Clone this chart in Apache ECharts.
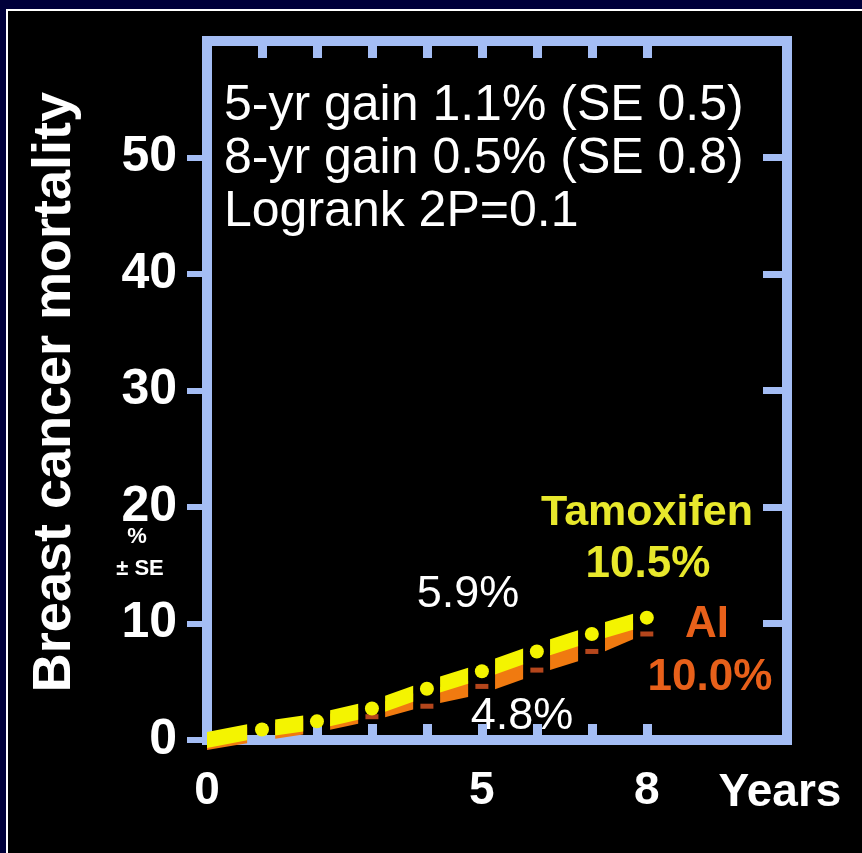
<!DOCTYPE html>
<html>
<head>
<meta charset="utf-8">
<script src="https://cdn.jsdelivr.net/npm/echarts@6/dist/echarts.min.js"></script>
<style>
html,body{margin:0;padding:0;background:#000;}
#chart{width:862px;height:853px;}
</style>
</head>
<body>
<div id="chart"></div>
<script>
// ---- data ----
const years = [0, 1, 2, 3, 4, 5, 6, 7, 8];
const tamoxifen = [0, 0.9, 1.6, 2.7, 4.4, 5.9, 7.6, 9.1, 10.5];
const aromataseInhibitor = [0, 0.8, 1.5, 2.5, 3.8, 4.8, 6.5, 8.0, 10.0];
const lowerMarkYears = [3, 4, 5, 6, 7, 8];
const lowerMarkValues = [2.0, 2.9, 4.6, 6.0, 7.6, 9.1];
const yTickLabels = [0, 10, 20, 30, 40, 50];
const xTickLabels = [0, 5, 8];
const yearTicks = [1, 2, 3, 4, 5, 6, 7, 8];
const statLines = ['5-yr gain 1.1% (SE 0.5)', '8-yr gain 0.5% (SE 0.8)', 'Logrank 2P=0.1'];

const FONT = "'Liberation Sans', Arial, sans-serif";
const FRAME = '#a4bdf4';
const YELLOW = '#f4f400';
const ORANGE = '#f07a10';

function segments(values) {
  return years.slice(0, -1).map((y, i) => [y, values[i], years[i + 1], values[i + 1]]);
}
function blockRenderer(color, half, shift) {
  return function (params, api) {
    const p0 = api.coord([api.value(0), api.value(1)]);
    const p1 = api.coord([api.value(2), api.value(3)]);
    const f0 = params.dataIndex === 0 ? 0 : 0.24;
    const f1 = params.dataIndex === 0 ? 0.73 : 0.75;
    const xa = p0[0] + f0 * (p1[0] - p0[0]), ya = p0[1] + f0 * (p1[1] - p0[1]) + shift;
    const xb = p0[0] + f1 * (p1[0] - p0[0]), yb = p0[1] + f1 * (p1[1] - p0[1]) + shift;
    return {
      type: 'polygon',
      shape: { points: [[xa, ya - half], [xb, yb - half], [xb, yb + half], [xa, ya + half]] },
      style: { fill: color }
    };
  };
}

const chart = echarts.init(document.getElementById('chart'), null, { renderer: 'canvas' });

const txt = (text, x, y, fill, font, align) => ({
  type: 'text', x: x, y: y, silent: true,
  style: { text: text, fill: fill, font: font, textAlign: align || 'center', textVerticalAlign: 'middle' }
});

const noLine = { show: false, onZero: false };

const option = {
  backgroundColor: '#000',
  animation: false,
  grid: {
    left: 207, top: 41, right: 75, bottom: 113,
    show: true, borderColor: FRAME, borderWidth: 10, backgroundColor: 'transparent'
  },
  xAxis: [
    {
      type: 'value', min: 0, max: 10.55, position: 'bottom',
      axisLine: noLine, splitLine: { show: false },
      axisTick: { show: true, inside: true, length: 16, customValues: yearTicks, lineStyle: { color: FRAME, width: 9 } },
      axisLabel: { show: true, customValues: xTickLabels, color: '#fff', fontFamily: FONT, fontWeight: 'bold', fontSize: 46, margin: 28 }
    },
    {
      type: 'value', min: 0, max: 10.55, position: 'top',
      axisLine: noLine, splitLine: { show: false },
      axisTick: { show: true, inside: true, length: 17, customValues: yearTicks, lineStyle: { color: FRAME, width: 9 } },
      axisLabel: { show: false }
    }
  ],
  yAxis: [
    {
      type: 'value', min: 0, max: 60, interval: 10, position: 'left',
      axisLine: noLine, splitLine: { show: false },
      axisTick: { show: true, inside: false, length: 20, customValues: yTickLabels, lineStyle: { color: FRAME, width: 6 } },
      axisLabel: { show: true, customValues: yTickLabels, color: '#fff', fontFamily: FONT, fontWeight: 'bold', fontSize: 50, margin: 30 }
    },
    {
      type: 'value', min: 0, max: 60, interval: 10, position: 'right',
      axisLine: noLine, splitLine: { show: false },
      axisTick: { show: true, inside: true, length: 24, customValues: yTickLabels.slice(1), lineStyle: { color: FRAME, width: 7 } },
      axisLabel: { show: false }
    }
  ],
  series: [
    {
      name: 'AI', type: 'custom', xAxisIndex: 0, yAxisIndex: 0, z: 3,
      renderItem: blockRenderer(ORANGE, 8, 2),
      encode: { x: [0, 2], y: [1, 3] },
      data: segments(aromataseInhibitor)
    },
    {
      name: 'Tamoxifen', type: 'custom', xAxisIndex: 0, yAxisIndex: 0, z: 4,
      renderItem: blockRenderer(YELLOW, 8, 0),
      encode: { x: [0, 2], y: [1, 3] },
      data: segments(tamoxifen)
    },
    {
      name: 'Lower marks', type: 'scatter', z: 5,
      symbol: 'rect', symbolSize: [13, 5],
      itemStyle: { color: '#b4461c', opacity: 1 },
      data: lowerMarkYears.map((y, i) => [y, lowerMarkValues[i]])
    },
    {
      name: 'Tamoxifen points', type: 'scatter', z: 6,
      symbol: 'circle', symbolSize: 14,
      itemStyle: { color: YELLOW, opacity: 1 },
      data: years.map((y, i) => [y, tamoxifen[i]]).filter((d, i) => i > 0)
    }
  ],
  graphic: [
    { type: 'rect', silent: true, shape: { x: 0, y: 0, width: 862, height: 10 }, style: { fill: '#00003a' } },
    { type: 'rect', silent: true, shape: { x: 0, y: 0, width: 6, height: 853 }, style: { fill: '#00003a' } },
    { type: 'line', silent: true, shape: { x1: 6, y1: 10, x2: 862, y2: 10 }, style: { stroke: '#ffffff', lineWidth: 2 } },
    { type: 'line', silent: true, shape: { x1: 7, y1: 10, x2: 7, y2: 853 }, style: { stroke: '#ffffff', lineWidth: 2 } },
    txt(statLines[0], 224, 106, '#fff', '50px ' + FONT, 'left'),
    txt(statLines[1], 224, 159, '#fff', '50px ' + FONT, 'left'),
    txt(statLines[2], 224, 212, '#fff', '50px ' + FONT, 'left'),
    txt('Tamoxifen', 647, 513, '#e8e82c', 'bold 43px ' + FONT),
    txt('10.5%', 648, 565, '#e8e82c', 'bold 44px ' + FONT),
    txt('AI', 707, 625, '#e8601a', 'bold 44px ' + FONT),
    txt('10.0%', 710, 678, '#e8601a', 'bold 44px ' + FONT),
    txt('5.9%', 468, 595, '#fff', '45px ' + FONT),
    txt('4.8%', 522, 717, '#fff', '45px ' + FONT),
    txt('%', 137, 537, '#fff', 'bold 22px ' + FONT),
    txt('± SE', 140, 569, '#fff', 'bold 22px ' + FONT),
    txt('Years', 780, 793, '#fff', 'bold 46px ' + FONT),
    {
      type: 'text', x: 55, y: 392, rotation: Math.PI / 2, silent: true,
      style: { text: 'Breast cancer mortality', fill: '#fff', font: 'bold 54px ' + FONT, textAlign: 'center', textVerticalAlign: 'middle' }
    }
  ]
};
chart.setOption(option);
</script>
</body>
</html>
